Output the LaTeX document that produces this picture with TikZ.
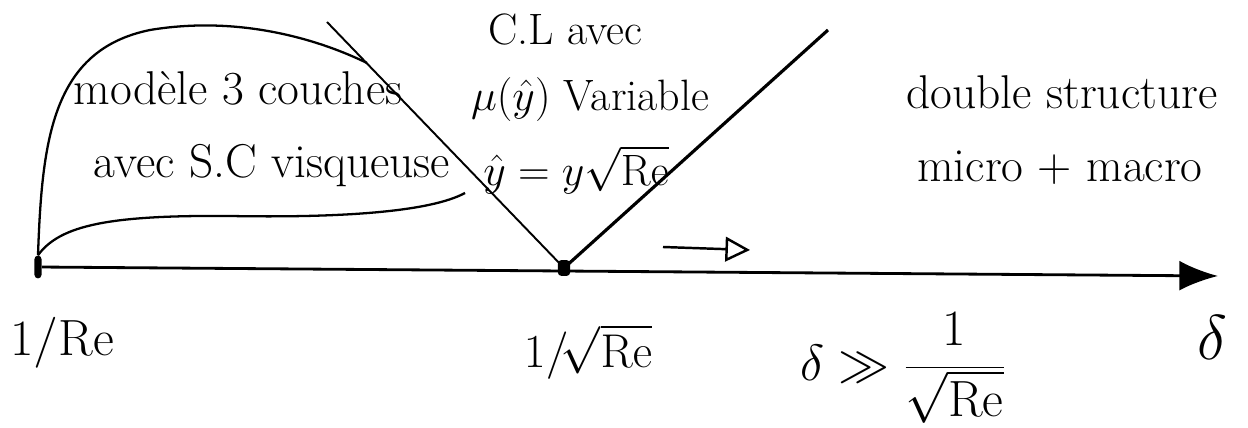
\documentclass[tikz,border=0pt]{standalone}
\usepackage{fix-cm}
\usetikzlibrary{arrows.meta}
\begin{document}
\begin{tikzpicture}[x=0.02cm,y=-0.02cm,
  txt/.style={inner sep=0pt, font=\fontsize{27}{32}\selectfont},
  mid/.style={inner sep=0pt, font=\fontsize{25}{30}\selectfont},
  lbl/.style={inner sep=0pt, font=\fontsize{29}{35}\selectfont}]
\useasboundingbox (0,0) rectangle (1248,428);

% points on the axis
\node[fill, inner sep=0pt, minimum width=4pt, minimum height=13pt, rounded corners=2pt] (re) at (38,267) {};
\node[fill, inner sep=0pt, minimum width=7pt, minimum height=9pt, rounded corners=2pt] (sqre) at (564,268) {};
\coordinate (tip) at (1218,276);
\coordinate (top) at (327,22);
\coordinate (far) at (828,30);
\coordinate (a) at (663,247);
\coordinate (b) at (750,250);

% texts
\node[txt] (three) at (238,88) {mod\`ele 3 couches};
\node[txt] (visc) at (272,166) {avec S.C visqueuse};
\node[mid] (cl) at (565,30) {C.L avec};
\node[mid] (mu) at (590,100) {$\mu(\hat{y})$ Variable};
\node[mid] (yhat) at (576,170) {$\hat{y}=y\sqrt{\mathrm{Re}}$};
\node[txt] (dbl) at (1062,92) {double structure};
\node[txt] (mic) at (1060,168) {micro + macro};

\node[lbl] (l1) at (62,343) {$1/\mathrm{Re}$};
\node[lbl, font=\fontsize{27}{32}\selectfont] (l2) at (588,352) {$1/\!\sqrt{\mathrm{Re}}$};
\node[lbl] (l3) at (903,368) {$\delta \gg \displaystyle\frac{1}{\sqrt{\mathrm{Re}}}$};
\node[lbl, font=\fontsize{36}{42}\selectfont] (l4) at (1212,338) {$\delta$};

% axis and regions
\draw[line width=1.6pt, -{Latex[length=22pt,width=17pt]}] (re) -- (tip);
\draw[line width=1.1pt] (top) -- (sqre.center);
\draw[line width=1.8pt] (sqre.center) -- (far);
\draw[line width=1.4pt, -{Triangle[open,length=14pt,width=14pt]}] (a) -- (b);

% bubble
\draw[line width=1.3pt] (re.north) .. controls (42,140) and (52,50) .. (150,30)
  .. controls (240,15) and (320,40) .. (367,63);
\draw[line width=1.3pt] (re.north) .. controls (60,225) and (110,215) .. (230,216)
  .. controls (340,218) and (430,212) .. (465,193);
\end{tikzpicture}
\end{document}
